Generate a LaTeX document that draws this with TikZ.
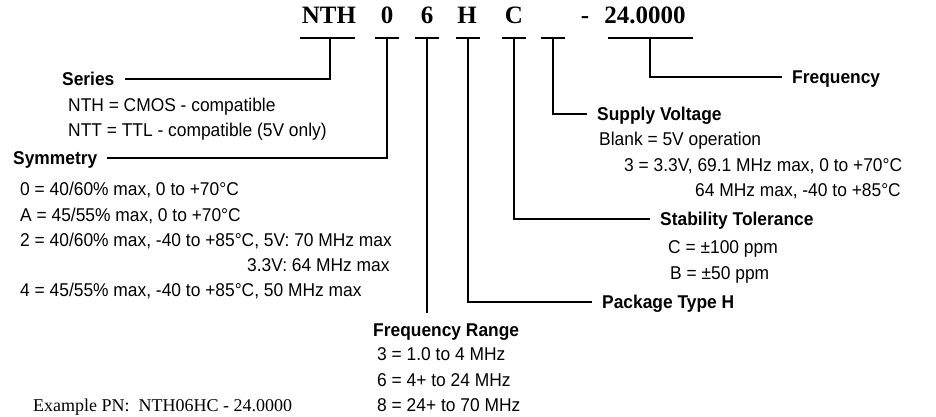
\documentclass[tikz,border=0pt]{standalone}
\usepackage{fontspec}
\setmainfont{Liberation Sans}[FakeStretch=0.94]
\newfontfamily\serifpn{Liberation Serif}

\begin{document}
\begin{tikzpicture}[
  x=1pt, y=-1pt,
  pn/.style={font=\serifpn\fontsize{25}{28}\selectfont\bfseries, anchor=base, inner sep=0pt},
  head/.style={font=\fontsize{18.5}{21}\selectfont\bfseries, anchor=west, inner xsep=10pt, inner ysep=0pt, text height=13.2pt, text depth=0pt},
  item/.style={font=\fontsize{18.5}{21}\selectfont, anchor=base west, inner sep=0pt},
  lead/.style={line width=1.5pt}
]
\useasboundingbox (0,0) rectangle (936,417);
\node[pn] (nth) at (329,24) {NTH};
\node[pn] (sym) at (387,24) {0};
\node[pn] (rng) at (427,24) {6};
\node[pn] (pkg) at (467,24) {H};
\node[pn] (stb) at (514,24) {C};
\node[pn] (dash) at (585,24) {-};
\node[pn] (frq) at (645,24) {24.0000};
\coordinate (t-nth) at (330,38);
\coordinate (t-frq) at (650,38);
\draw[lead] (300,38) -- (355,38);
\draw[lead] (608,38) -- (693,38);
\foreach \n/\x in {sym/387, rng/427, pkg/468, stb/514, volt/553} {
  \coordinate (t-\n) at (\x,38);
  \draw[lead] ([xshift=-12pt]t-\n) -- ([xshift=12pt]t-\n);
}
\node[head] (series) at (52,79) {Series};
\node[item] (nthcmos) at (68,111) {NTH = CMOS - compatible};
\node[item] (ntttl) at (68,136) {NTT = TTL - compatible (5V only)};
\node[head] (symmetry) at (3,158) {Symmetry};
\node[item] (sym0) at (20,195) {0 = 40/60\% max, 0 to +70°C};
\node[item] (symA) at (20,221) {A = 45/55\% max, 0 to +70°C};
\node[item] (sym2) at (20,246) {2 = 40/60\% max, -40 to +85°C, 5V: 70 MHz max};
\node[item] (sym2b) at (247,271) {3.3V: 64 MHz max};
\node[item] (sym4) at (20,296) {4 = 45/55\% max, -40 to +85°C, 50 MHz max};
\node[head] (freq) at (782,77) {Frequency};
\node[head] (supply) at (587,114) {Supply Voltage};
\node[item] (vblank) at (599,146) {Blank = 5V operation};
\node[item] (v3) at (624,171) {3 = 3.3V, 69.1 MHz max, 0 to +70°C};
\node[item] (v3b) at (695,196) {64 MHz max, -40 to +85°C};
\node[head] (stability) at (650,219) {Stability Tolerance};
\node[item] (stbC) at (668,253) {C = ±100 ppm};
\node[item] (stbB) at (670,279) {B = ±50 ppm};
\node[head] (package) at (592,302) {Package Type H};
\node[head, inner ysep=10.5pt] (range) at (363,330) {Frequency Range};
\node[item] (rng3) at (377,360) {3 = 1.0 to 4 MHz};
\node[item] (rng6) at (377,386) {6 = 4+ to 24 MHz};
\node[item] (rng8) at (377,411) {8 = 24+ to 70 MHz};
\node[item, font=\serifpn\fontsize{18}{20}\selectfont] (example) at (33,411) {Example PN:\ \ NTH06HC - 24.0000};
\draw[lead] (t-nth) |- (series.east);
\draw[lead] (t-sym) |- (symmetry.east);
\draw[lead] (t-rng) -- (t-rng |- range.north);
\draw[lead] (t-pkg) |- (package.west);
\draw[lead] (t-stb) |- (stability.west);
\draw[lead] (t-volt) |- (supply.west);
\draw[lead] (t-frq) |- (freq.west);
\end{tikzpicture}
\end{document}
